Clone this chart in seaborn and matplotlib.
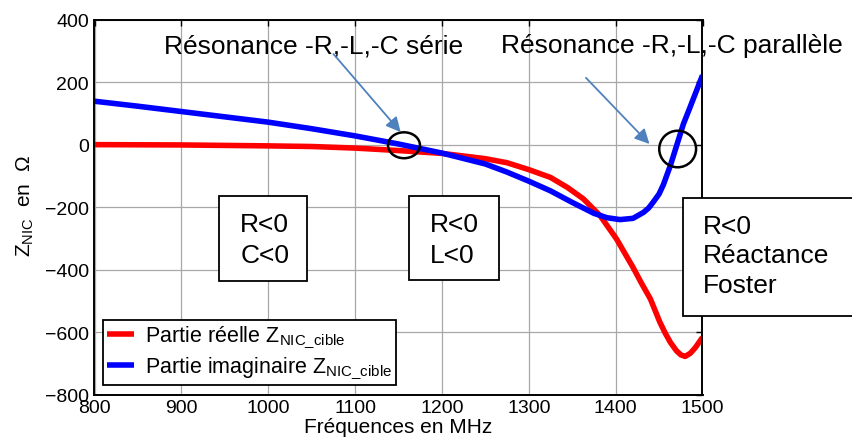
import matplotlib
matplotlib.use('Agg')
import matplotlib.pyplot as plt
import seaborn as sns
from matplotlib.patches import Rectangle, Ellipse

# données
freq_re = [800, 900, 1000, 1050, 1100, 1150, 1200, 1250, 1275, 1300, 1325, 1345, 1363,
           1382, 1401, 1420, 1430, 1440, 1451, 1457, 1463, 1470, 1475, 1480, 1486, 1492, 1500]
z_re = [0, -1, -4, -6, -11, -19, -28, -45, -58, -80, -105, -138, -174,
        -227, -302, -393, -445, -494, -569, -603, -633, -660, -673, -678, -668, -649, -617]

freq_im = [800, 850, 900, 950, 1000, 1050, 1100, 1150, 1200, 1250, 1275, 1300, 1325, 1350,
           1375, 1390, 1405, 1420, 1432, 1438, 1443, 1450, 1455, 1463, 1470, 1478, 1485, 1492, 1500]
z_im = [139, 123, 106, 89, 72, 51, 28, 2, -27, -62, -88, -117, -148, -185,
        -220, -234, -240, -236, -217, -203, -185, -158, -128, -67, -5, 66, 115, 165, 222]

x_ticks = [800, 900, 1000, 1100, 1200, 1300, 1400, 1500]
y_ticks = [-800, -600, -400, -200, 0, 200, 400]

sns.set_theme(style='white')
plt.rcParams['font.family'] = ['Liberation Sans', 'DejaVu Sans']
plt.rcParams['mathtext.fontset'] = 'custom'
plt.rcParams['mathtext.rm'] = 'Liberation Sans'
plt.rcParams['text.color'] = 'black'

W, H = 853, 439
fig = plt.figure(figsize=(W / 100, H / 100), dpi=100)
ax = fig.add_axes([94.5 / W, 1 - 395.5 / H, 608 / W, 374.8 / H])

lab_re = r'Partie réelle Z$_{\mathregular{NIC\_cible}}$'
lab_im = r'Partie imaginaire Z$_{\mathregular{NIC\_cible}}$'
sns.lineplot(x=freq_re, y=z_re, color='#ff0000', lw=4, label=lab_re, ax=ax, zorder=2,
             solid_joinstyle='round', solid_capstyle='butt')
sns.lineplot(x=freq_im, y=z_im, color='#0000ff', lw=4, label=lab_im, ax=ax, zorder=2,
             solid_joinstyle='round', solid_capstyle='butt')

ax.set_xlim(800, 1500)
ax.set_ylim(-800, 400)
ax.set_xticks(x_ticks)
ax.set_yticks(y_ticks)
ax.grid(True, color='#a8a8a8', lw=0.9)
ax.set_axisbelow(True)
for s in ax.spines.values():
    s.set_color('black')
    s.set_linewidth(1.4)
ax.tick_params(direction='in', length=4, width=1, top=True, right=True,
               labelsize=14, colors='black')
ax.tick_params(axis='x', pad=3)
ax.tick_params(axis='y', pad=4)
ax.set_xlabel('')
ax.set_ylabel('')

fig.text(398 / W, 1 - 433 / H, 'Fréquences en MHz', ha='center', va='baseline', fontsize=15)
fig.text(25 / W, 1 - 206 / H, r'Z$_{\mathregular{NIC}}$  en  Ω', rotation=90,
         ha='center', va='center', fontsize=15)

# encadrés
boxes = [(943.4, -437, 1044.6, -164), (1162, -433, 1265.7, -164), (1477.2, -549, 1690, -171)]
for x0, y0, x1, y1 in boxes:
    ax.add_patch(Rectangle((x0, y0), x1 - x0, y1 - y0, facecolor='white', edgecolor='black',
                           lw=1.3, zorder=3, clip_on=False))
box_lines = [(967.7, [-278, -375.6], ['R<0', 'C<0']),
             (1186.2, [-278, -375.6], ['R<0', 'L<0']),
             (1500.9, [-283, -376.6, -472.6], ['R<0', 'Réactance', 'Foster'])]
for x, ys, txts in box_lines:
    for y, t in zip(ys, txts):
        ax.text(x, y, t, fontsize=19, va='baseline', ha='left', zorder=4, clip_on=False)

# résonances
ax.add_patch(Ellipse((1156.3, -2), 36.8, 83, fill=False, edgecolor='black', lw=1.8, zorder=4))
ax.add_patch(Ellipse((1471.4, -14), 42.4, 117, fill=False, edgecolor='black', lw=1.8, zorder=4,
                     clip_on=False))
ax.text(1052, 293.6, 'Résonance -R,-L,-C série', fontsize=19, ha='center', va='baseline', zorder=5)
ax.text(1464.8, 296, 'Résonance -R,-L,-C parallèle', fontsize=19, ha='center', va='baseline',
        zorder=5, clip_on=False)
arrow = dict(arrowstyle='-|>', color='#4f81bd', lw=1.3, mutation_scale=22, shrinkA=0, shrinkB=0)
ax.annotate('', xy=(1152.5, 40), xytext=(1075.2, 290), arrowprops=arrow, zorder=5)
ax.annotate('', xy=(1439, 2), xytext=(1365.8, 214), arrowprops=arrow, zorder=5)

leg = ax.legend(loc='lower left', bbox_to_anchor=(103 / W, 1 - 386 / H), bbox_transform=fig.transFigure,
                borderaxespad=0, fontsize=15.5, frameon=True, fancybox=False, framealpha=1,
                edgecolor='black', handlelength=1.25, handletextpad=0.5, borderpad=0.2,
                labelspacing=0.2)
leg.get_frame().set_linewidth(1.3)
leg.set_zorder(6)

plt.savefig('out.png', dpi=100)
